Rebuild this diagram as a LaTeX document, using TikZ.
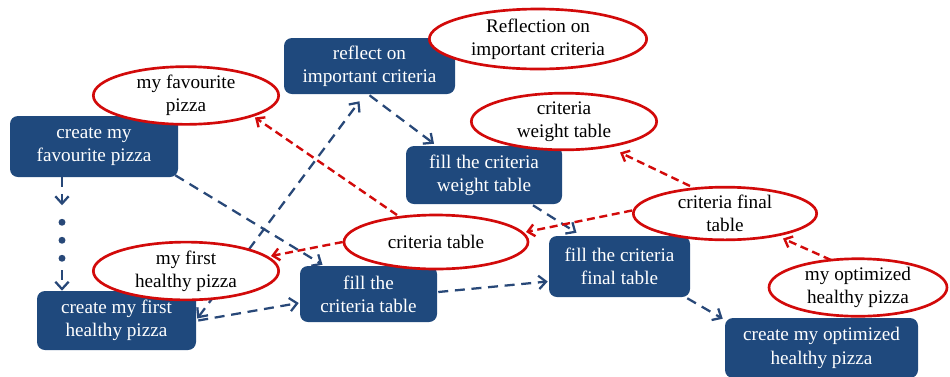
\documentclass[tikz,border=0pt]{standalone}
\usepackage{fontspec}
\setmainfont{Liberation Serif}
\usetikzlibrary{arrows.meta,calc,shapes.geometric}
\definecolor{boxblue}{RGB}{31,73,125}
\definecolor{lineblue}{RGB}{40,72,120}
\definecolor{ellred}{RGB}{210,10,10}
\tikzset{
  stepbox/.style={rectangle, rounded corners=6pt, fill=boxblue, text=white, align=center,
    inner sep=0pt, font=\fontsize{14.4pt}{17.4pt}\selectfont},
  outcome/.style={ellipse, draw=ellred, line width=2pt, fill=white, text=black, align=center,
    inner sep=0pt, font=\fontsize{14.4pt}{17.4pt}\selectfont},
  flow/.style={draw=lineblue, line width=1.7pt, dash pattern=on 7.5pt off 5pt,
    -{Straight Barb[length=5.5pt,width=10pt]}},
  flowboth/.style={flow, {Straight Barb[length=5.5pt,width=10pt]}-{Straight Barb[length=5.5pt,width=10pt]}},
  link/.style={draw=ellred, line width=1.8pt, dash pattern=on 6pt off 3.5pt,
    -{Straight Barb[length=5pt,width=9pt]}},
}
\begin{document}
\begin{tikzpicture}[x=0.75pt,y=-0.75pt]
\useasboundingbox (0,0) rectangle (950,376);
% boxes
\node[stepbox, minimum width=126pt, minimum height=45.75pt] (b1) at (94,146.5) {create my\\favourite pizza};
\node[stepbox, minimum width=119.25pt, minimum height=44.25pt] (b2) at (116.5,320.5) {create my first\\healthy pizza};
\node[stepbox, minimum width=128.25pt, minimum height=42pt] (b3) at (369.5,66) {reflect on\\important criteria};
\node[stepbox, minimum width=117pt, minimum height=43.5pt] (b4) at (484,175) {fill the criteria\\weight table};
\node[stepbox, minimum width=102.75pt, minimum height=42pt] (b5) at (368.5,294) {fill the\\criteria table};
\node[stepbox, minimum width=105.75pt, minimum height=45.75pt] (b6) at (619.5,266.5) {fill the criteria\\final table};
\node[stepbox, minimum width=144.75pt, minimum height=45pt] (b7) at (821.5,348) {create my optimized\\healthy pizza};
% blue connectors
\coordinate (d0) at ($(b1.south)+(-32,0)$);
\coordinate (d1) at ($(b1.south)+(-32,28)$);
\coordinate (d2) at ($(b1.south)+(-32,93)$);
\draw[flow] (d0) -- (d1);
\foreach \yy in {45,63,81} \fill[lineblue] ($(b1.south)+(-32,\yy)$) circle (2.6pt);
\draw[flow] (d2) -- ($(b2.north)+(-54.5,0)$);
\draw[flow] ($(b1.south east)+(-3,-2)$) -- ($(b5.north)+(-46,-1)$);
\draw[flowboth] ($(b2.east)+(1,-2)$) -- ($(b3.south)+(-10,7)$);
\draw[flow] ($(b3.south)+(0,1)$) -- ($(b4.north)+(-50,-2)$);
\draw[flow] ($(b4.south)+(49,1)$) -- ($(b6.north)+(-43,-3)$);
\draw[flow] ($(b2.east)+(2,0)$) -- ($(b5.west)+(-1,9)$);
\draw[flow] ($(b5.east)+(1,-2)$) -- ($(b6.west)+(-1,15)$);
\draw[flow] ($(b6.south east)+(-3,1)$) -- ($(b7.north west)+(-2,1)$);
% ellipse centres
\coordinate (eAc) at (538,39);
\coordinate (eBc) at (186,95.5);
\coordinate (eCc) at (564,121.5);
\coordinate (eDc) at (436,242);
\coordinate (eEc) at (186,271);
\coordinate (eFc) at (725,213.5);
\coordinate (eGc) at (858,287.5);
% ellipses
\node[outcome, minimum width=163pt, minimum height=45pt] (eA) at (eAc) {Reflection on\\important criteria};
\node[outcome, minimum width=139pt, minimum height=41pt] (eB) at (eBc) {my favourite\\pizza};
\node[outcome, minimum width=139pt, minimum height=41pt] (eC) at (eCc) {criteria\\weight table};
\node[outcome, minimum width=138pt, minimum height=40.5pt] (eD) at (eDc) {criteria table};
\node[outcome, minimum width=139pt, minimum height=42pt] (eE) at (eEc) {my first\\healthy pizza};
\node[outcome, minimum width=137.5pt, minimum height=39.5pt] (eF) at (eFc) {criteria final\\table};
\node[outcome, minimum width=133.5pt, minimum height=41pt] (eG) at (eGc) {my optimized\\healthy pizza};
% red links
\draw[link] ($(eD.center)+(-39,-27)$) -- ($(eB.center)+(69,22)$);
\draw[link] (eD.west) -- ($(eE.center)+(85,-15)$);
\draw[link] ($(eF.west)+(0,-3)$) -- ($(eD.center)+(90,-10)$);
\draw[link] ($(eF.center)+(-35,-27.5)$) -- ($(eC.center)+(56,31)$);
\draw[link] ($(eG.center)+(-27,-27.5)$) -- ($(eF.center)+(58,25)$);
\end{tikzpicture}
\end{document}
